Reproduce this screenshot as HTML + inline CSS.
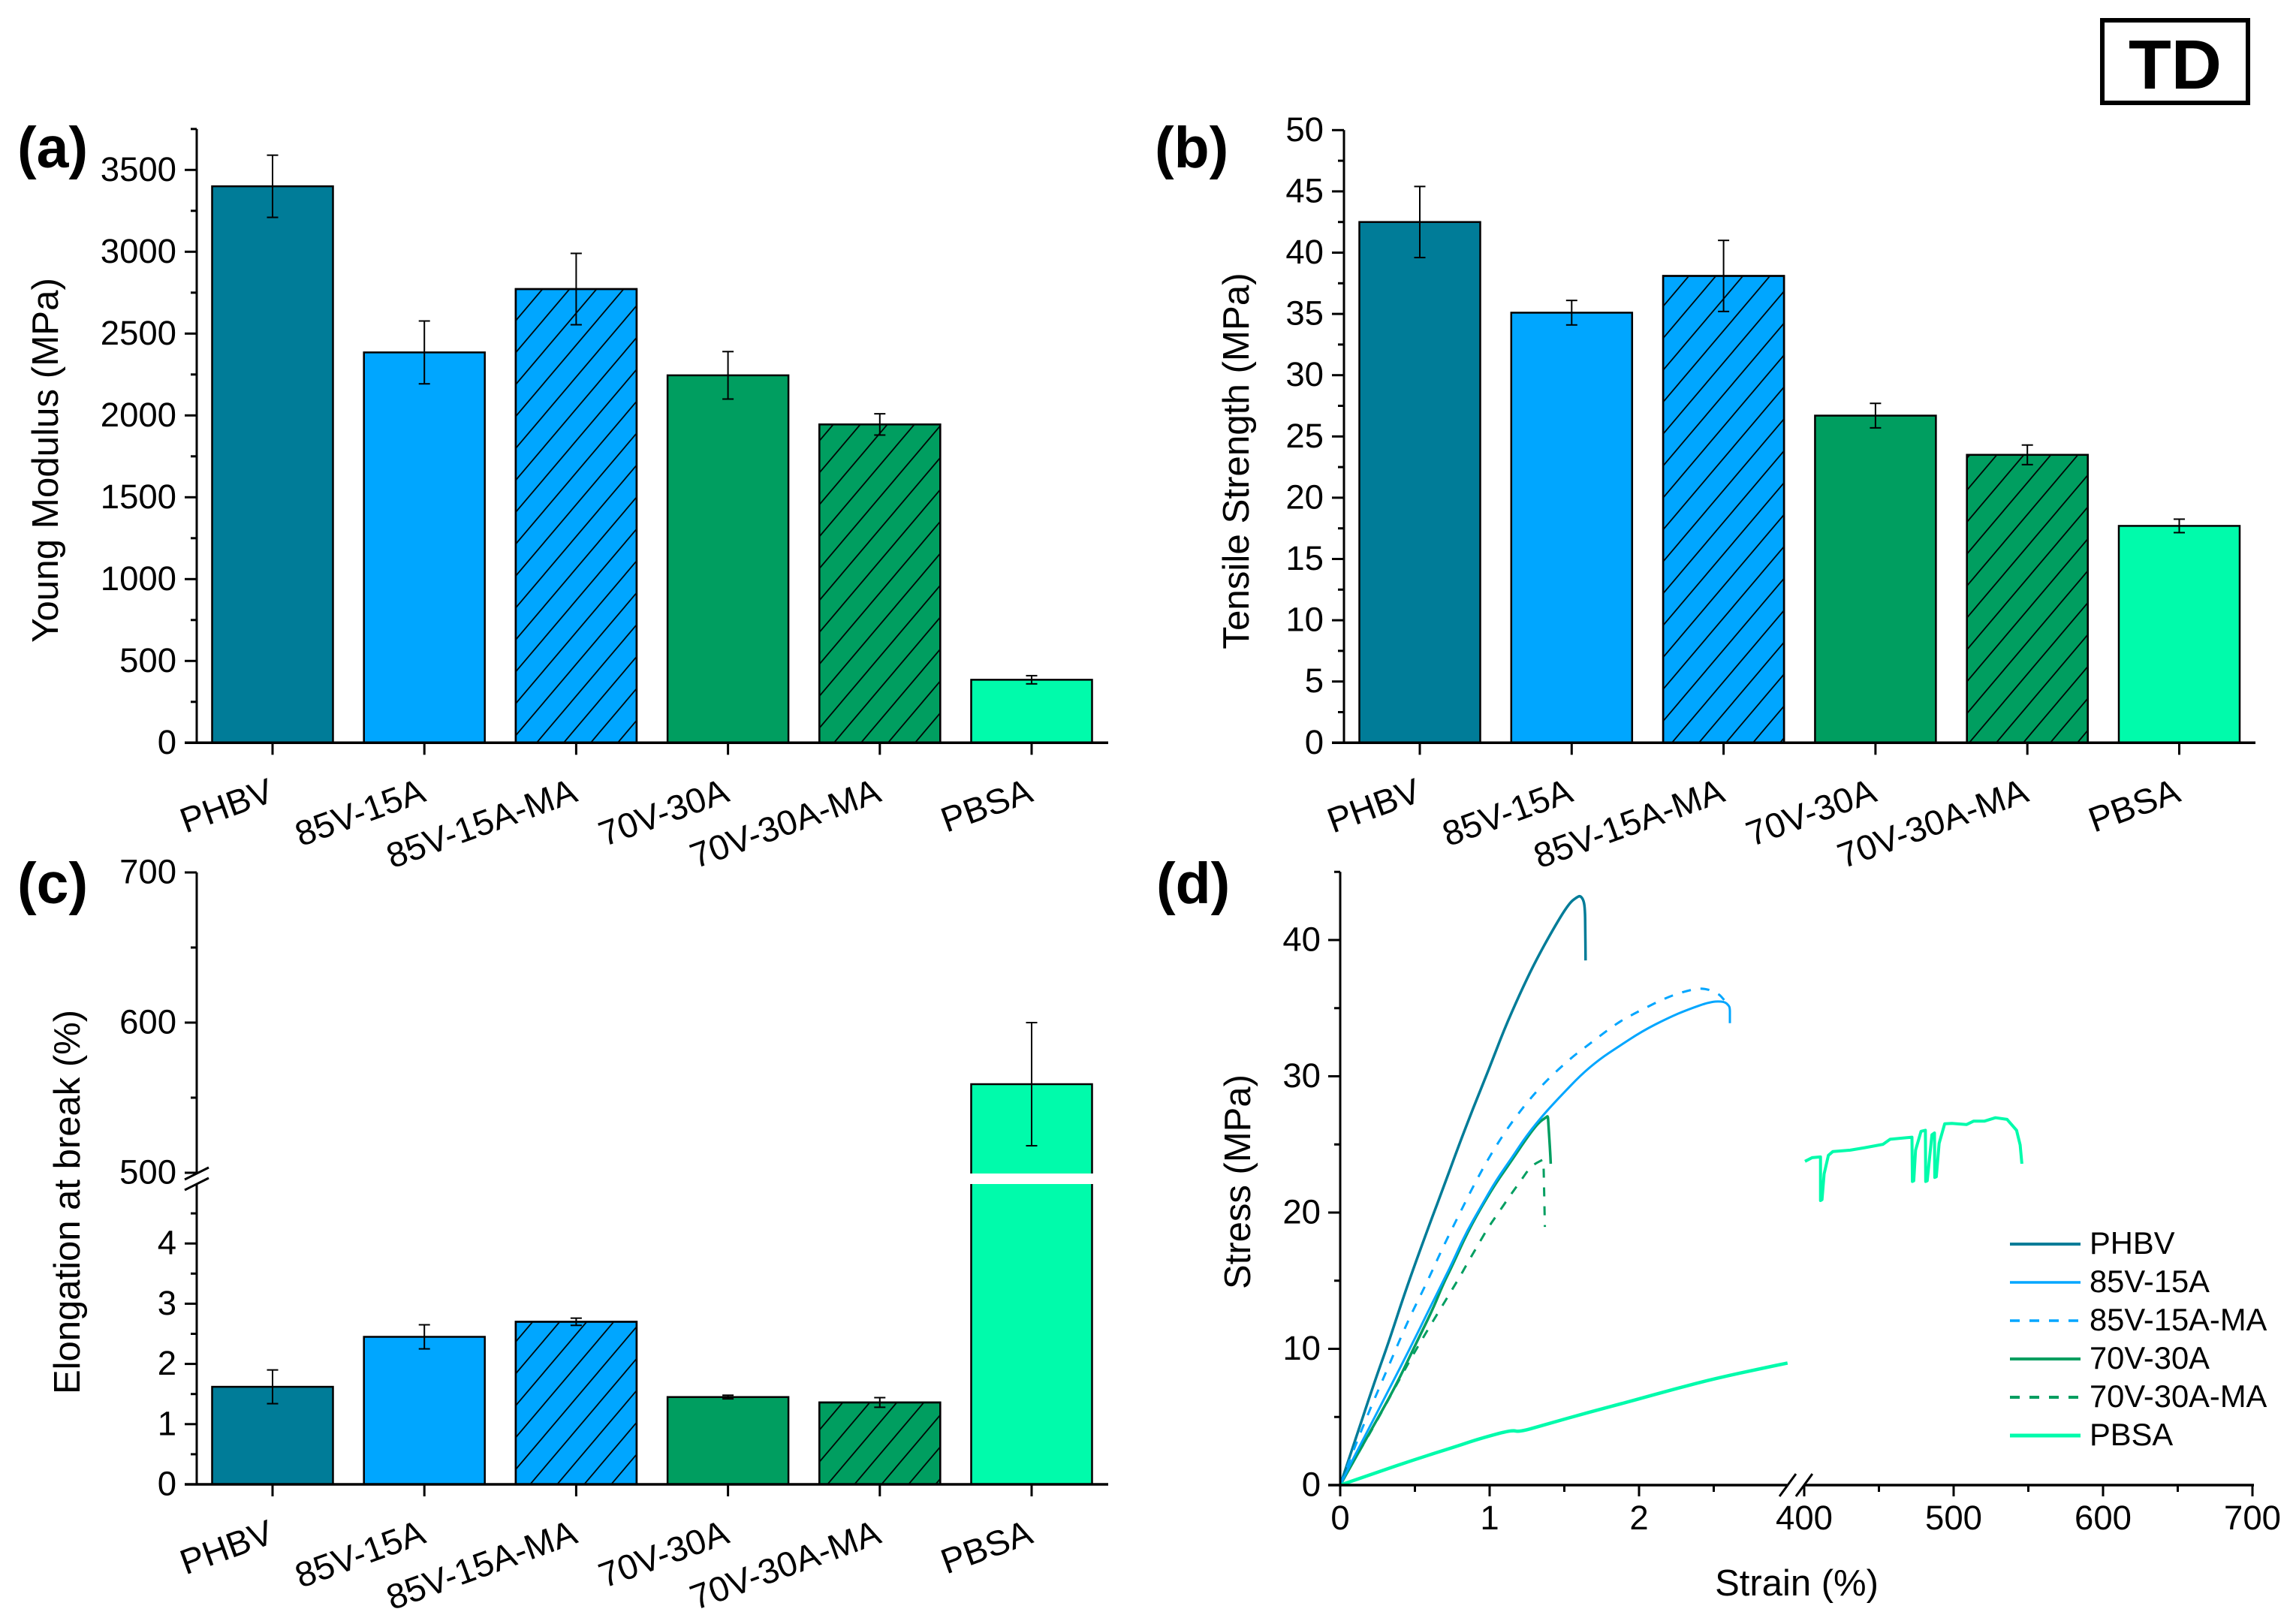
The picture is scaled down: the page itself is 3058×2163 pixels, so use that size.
<!DOCTYPE html>
<html lang="en">
<head>
<meta charset="utf-8">
<title>TD mechanical properties</title>
<style>
html,body{margin:0;padding:0;background:#fff;}
svg{display:block;}
text{font-family:"Liberation Sans",Arial,sans-serif;fill:#000;}
</style>
</head>
<body>
<svg id="chart" xmlns="http://www.w3.org/2000/svg" width="3058" height="2163" viewBox="0 0 3058 2163">
<defs>
<pattern id="hatch" patternUnits="userSpaceOnUse" width="36" height="42.5" patternTransform="translate(4.7,0)">
<path d="M-4,4.72 L4,-4.72 M0,42.5 L36,0 M32,47.22 L40,37.78" stroke="#000" stroke-width="1.7" fill="none"/>
</pattern>
</defs>
<rect x="0" y="0" width="3058" height="2163" fill="#fff"/>
<g>
<rect x="2800" y="27" width="194" height="110" fill="none" stroke="#000" stroke-width="6"/>
<text x="2897" y="118" font-size="93" font-weight="bold" text-anchor="middle">TD</text>
</g>
<text x="23" y="223" font-size="77" font-weight="bold">(a)</text>
<text x="1538" y="223" font-size="77" font-weight="bold">(b)</text>
<text x="23" y="1203" font-size="77" font-weight="bold">(c)</text>
<text x="1540" y="1203" font-size="77" font-weight="bold">(d)</text>
<text transform="translate(77,613) rotate(-90)" font-size="49.3" text-anchor="middle">Young Modulus (MPa)</text>
<text transform="translate(1663,614) rotate(-90)" font-size="49.3" text-anchor="middle">Tensile Strength (MPa)</text>
<text transform="translate(106,1601) rotate(-90)" font-size="49" text-anchor="middle">Elongation at break (%)</text>
<text transform="translate(1665,1574) rotate(-90)" font-size="49" text-anchor="middle">Stress (MPa)</text>
<text x="2393" y="2125" font-size="49" text-anchor="middle">Strain (%)</text>
<g id="plots"></g>
</svg>
<script>
const categories = ['PHBV', '85V-15A', '85V-15A-MA', '70V-30A', '70V-30A-MA', 'PBSA'];
const barColors = ['#007C98', '#00A6FF', '#00A6FF', '#009E60', '#009E60', '#00FBAB'];
const barHatched = [false, false, true, false, true, false];

const modulusValues = [3400, 2385, 2772, 2245, 1945, 385];
const modulusErrors = [190, 192, 218, 145, 65, 25];
const modulusMajorTicks = [0, 500, 1000, 1500, 2000, 2500, 3000, 3500];
const modulusMinorTicks = [250, 750, 1250, 1750, 2250, 2750, 3250, 3750];

const strengthValues = [42.5, 35.1, 38.1, 26.7, 23.5, 17.7];
const strengthErrors = [2.9, 1.0, 2.9, 1.0, 0.8, 0.55];
const strengthMajorTicks = [0, 5, 10, 15, 20, 25, 30, 35, 40, 45, 50];
const strengthMinorTicks = [2.5, 7.5, 12.5, 17.5, 22.5, 27.5, 32.5, 37.5, 42.5, 47.5];

const elongationValues = [1.62, 2.45, 2.7, 1.45, 1.36, 559];
const elongationErrors = [0.28, 0.2, 0.06, 0.03, 0.08, 41];
const elongationMajorTicks = [0, 1, 2, 3, 4, 500, 600, 700];
const elongationMinorTicks = [0.5, 1.5, 2.5, 3.5, 4.5, 550, 650];

const strainMajorTicks = [0, 1, 2, 400, 500, 600, 700];
const strainMinorTicks = [0.5, 1.5, 2.5, 450, 550, 650];
const stressMajorTicks = [0, 10, 20, 30, 40];
const stressMinorTicks = [5, 15, 25, 35, 45];

const phbvStrain = [0, 0.08, 0.224, 0.325, 0.447, 0.608, 0.686, 0.788, 0.891, 0.993, 1.096, 1.2, 1.3, 1.43, 1.532, 1.585, 1.608, 1.63, 1.638, 1.64, 1.642];
const phbvStress = [0, 2.6, 7.4, 10.5, 14.6, 19.45, 21.7, 24.76, 27.7, 30.46, 33.4, 36, 38.3, 40.9, 42.7, 43.15, 43.25, 42.9, 42.2, 41, 38.5];

const v85Strain = [0, 0.066, 0.166, 0.34, 0.47, 0.6, 0.68, 0.745, 0.839, 0.942, 1.045, 1.146, 1.25, 1.377, 1.48, 1.608, 1.737, 1.852, 2.019, 2.198, 2.327, 2.48, 2.57, 2.6, 2.608, 2.608, 2.608];
const v85Stress = [0, 1.5, 3.6, 7.3, 10.1, 13.0, 14.77, 16.2, 18.46, 20.44, 22.4, 23.97, 25.7, 27.4, 28.6, 30.07, 31.26, 32.1, 33.3, 34.3, 34.9, 35.48, 35.5, 35.2, 35.0, 34.5, 33.9];

const v85MaStrain = [0, 0.138, 0.31, 0.455, 0.583, 0.685, 0.8, 0.917, 1.045, 1.185, 1.352, 1.544, 1.66, 1.852, 1.967, 2.186, 2.327, 2.428, 2.53, 2.57];
const v85MaStress = [0, 4.0, 8.37, 12.1, 14.93, 17.4, 19.95, 22.5, 24.96, 27.2, 29.4, 31.35, 32.3, 33.9, 34.6, 35.8, 36.3, 36.5, 36.1, 35.6];

const v70Strain = [0, 0.196, 0.367, 0.49, 0.62, 0.69, 0.75, 0.865, 1.019, 1.146, 1.25, 1.327, 1.38, 1.39, 1.393, 1.405, 1.409];
const v70Stress = [0, 3.8, 7.17, 10, 12.9, 14.77, 16.1, 18.86, 21.8, 23.8, 25.5, 26.6, 27.0, 27.1, 26.6, 24.5, 23.58];

const v70MaStrain = [0, 0.136, 0.21, 0.397, 0.528, 0.788, 0.852, 0.916, 0.993, 1.057, 1.134, 1.2, 1.275, 1.35, 1.36, 1.362, 1.37];
const v70MaStress = [0, 2.64, 4, 7.77, 10.36, 15.04, 16.3, 17.5, 18.95, 19.95, 21.2, 22.2, 23.4, 23.85, 23.9, 23.2, 18.95];

const pbsaLowStrain = [0, 0.224, 0.513, 0.8, 0.93, 1.147, 1.2, 1.377, 1.666, 1.955, 2.243, 2.532, 2.82, 2.994];
const pbsaLowStress = [0, 0.85, 1.93, 2.92, 3.4, 4.05, 3.89, 4.46, 5.35, 6.19, 7.07, 7.88, 8.56, 8.96];
const pbsaHighStrain = [400.5, 405.3, 410.9, 410.9, 411.9, 413.3, 416.2, 419.2, 430.8, 440.5, 452.7, 457.5, 472.1, 472.4, 473.3, 474.5, 478.2, 481.1, 481.3, 482.3, 485.5, 487.2, 487.4, 488.4, 490.3, 494, 498.8, 508.6, 513.4, 520.7, 528, 535.8, 542.1, 544.5, 545.7];
const pbsaHighStress = [23.76, 24.03, 24.08, 20.88, 20.95, 22.83, 24.2, 24.48, 24.58, 24.76, 25.01, 25.38, 25.53, 22.28, 22.33, 24.58, 25.96, 26.04, 22.28, 22.33, 25.71, 25.84, 22.58, 22.63, 25.08, 26.51, 26.54, 26.46, 26.71, 26.71, 26.96, 26.84, 26.04, 24.96, 23.58];

const legendLabels = ['PHBV', '85V-15A', '85V-15A-MA', '70V-30A', '70V-30A-MA', 'PBSA'];
const legendColors = ['#007C98', '#00A6FF', '#00A6FF', '#009E60', '#009E60', '#00FBAB'];
const legendDashed = [false, false, true, false, true, false];
const legendWidths = [4, 3.5, 3.5, 4, 4, 5];

const NS = 'http://www.w3.org/2000/svg';
const root = document.getElementById('plots');

function mk(tag, attrs, parent) {
  const node = document.createElementNS(NS, tag);
  for (const k in attrs) node.setAttribute(k, attrs[k]);
  (parent || root).appendChild(node);
  return node;
}

function drawLine(parent, x1, y1, x2, y2, width, name) {
  const l = mk('line', {x1: x1, y1: y1, x2: x2, y2: y2, stroke: '#000', 'stroke-width': width}, parent);
  
  
  return l;
}

function drawTickLabel(parent, x, y, str, anchor, name) {
  const t = mk('text', {x: x, y: y, 'font-size': 45.5, 'text-anchor': anchor}, parent);
  t.textContent = str;
  
  
  return t;
}

function yAxisTicks(parent, panel, axisX, scale, majors, minors, labelX) {
  majors.forEach(function (v) {
    drawLine(parent, axisX - 16, scale(v), axisX, scale(v), 3, panel + '-y-major-tick-' + v);
    drawTickLabel(parent, labelX, scale(v) + 14.5, String(v), 'end', panel + '-y-tick-label-' + v);
  });
  minors.forEach(function (v) {
    drawLine(parent, axisX - 8, scale(v), axisX, scale(v), 3, panel + '-y-minor-tick-' + v);
  });
}

function barPanel(panel, opts) {
  const g = mk('g', {});
  
  
  const bx = function (i) { return opts.firstX + i * opts.step; };
  const halfBar = 80.5;

  opts.values.forEach(function (v, i) {
    const top = opts.y(v);
    const bar = mk('rect', {x: bx(i) - halfBar, y: top, width: halfBar * 2, height: opts.baseY - top, fill: barColors[i], stroke: '#000', 'stroke-width': 2.5}, g);
    
    
    if (barHatched[i]) {
      const hatch = mk('rect', {x: bx(i) - halfBar, y: top, width: halfBar * 2, height: opts.baseY - top, fill: 'url(#hatch)', stroke: '#000', 'stroke-width': 2.5}, g);
      
      
    }
  });

  if (opts.gap) {
    const gap = mk('rect', {x: bx(0) - 100, y: opts.gap[0], width: opts.step * 5 + 200, height: opts.gap[1] - opts.gap[0], fill: '#fff'}, g);
    
    
  }

  opts.values.forEach(function (v, i) {
    const hi = opts.y(v + opts.errors[i]);
    const lo = opts.y(v - opts.errors[i]);
    drawLine(g, bx(i), hi, bx(i), lo, 2, 'error-bar-' + panel + '-' + categories[i]);
    drawLine(g, bx(i) - 7.5, hi, bx(i) + 7.5, hi, 2, 'error-cap-upper-' + panel + '-' + categories[i]);
    drawLine(g, bx(i) - 7.5, lo, bx(i) + 7.5, lo, 2, 'error-cap-lower-' + panel + '-' + categories[i]);
  });

  yAxisTicks(g, panel, opts.axisX, opts.y, opts.majors, opts.minors, opts.labelX);

  if (opts.gap) {
    drawLine(g, opts.axisX, opts.y(700), opts.axisX, opts.gap[0], 3, 'y-axis-upper-' + panel);
    drawLine(g, opts.axisX, opts.gap[1], opts.axisX, opts.baseY, 3, 'y-axis-lower-' + panel);
    drawLine(g, opts.axisX - 16, opts.gap[0] + 8, opts.axisX + 16, opts.gap[0] - 8, 3, 'y-axis-break-mark-upper');
    drawLine(g, opts.axisX - 16, opts.gap[1] + 8, opts.axisX + 16, opts.gap[1] - 8, 3, 'y-axis-break-mark-lower');
  } else {
    drawLine(g, opts.axisX, opts.y(opts.maxV), opts.axisX, opts.baseY, 3, 'y-axis-' + panel);
  }
  drawLine(g, opts.axisX - 16, opts.baseY, opts.axisX + 1214, opts.baseY, 3.5, 'x-axis-' + panel);

  categories.forEach(function (c, i) {
    drawLine(g, bx(i), opts.baseY, bx(i), opts.baseY + 16, 3, 'x-tick-' + panel + '-' + c);
    const lx = bx(i) + 4;
    const ly = opts.baseY + 77;
    const t = mk('text', {x: lx, y: ly, 'font-size': 46.8, 'text-anchor': 'end', transform: 'rotate(-20 ' + lx + ' ' + ly + ')'}, g);
    t.textContent = c;
    
    
  });
}

barPanel('a', {
  values: modulusValues, errors: modulusErrors, majors: modulusMajorTicks, minors: modulusMinorTicks,
  y: function (v) { return 989.3 - v * 0.218; },
  baseY: 989.3, axisX: 262, labelX: 235, firstX: 363, step: 202.2, maxV: 3750
});

barPanel('b', {
  values: strengthValues, errors: strengthErrors, majors: strengthMajorTicks, minors: strengthMinorTicks,
  y: function (v) { return 989.3 - v * 16.32; },
  baseY: 989.3, axisX: 1790, labelX: 1763, firstX: 1891, step: 202.3, maxV: 50
});

barPanel('c', {
  values: elongationValues, errors: elongationErrors, majors: elongationMajorTicks, minors: elongationMinorTicks,
  y: function (v) { return v >= 100 ? 1562 - (v - 500) * 2 : 1977 - v * 80.2; },
  baseY: 1977, axisX: 262, labelX: 235, firstX: 363, step: 202.2, gap: [1563, 1577]
});

/* panel d */
const xD = function (v) { return v < 100 ? 1785 + v * 199 : 2403 + (v - 400) * 1.99; };
const yD = function (v) { return 1978 - v * 18.15; };
const gD = mk('g', {});



function smoothPath(strain, stress) {
  const px = strain.map(xD);
  const py = stress.map(yD);
  let d = 'M' + px[0].toFixed(1) + ',' + py[0].toFixed(1);
  for (let i = 1; i < px.length - 1; i++) {
    const mx = (px[i] + px[i + 1]) / 2;
    const my = (py[i] + py[i + 1]) / 2;
    d += ' Q' + px[i].toFixed(1) + ',' + py[i].toFixed(1) + ' ' + mx.toFixed(1) + ',' + my.toFixed(1);
  }
  d += ' L' + px[px.length - 1].toFixed(1) + ',' + py[py.length - 1].toFixed(1);
  return d;
}

function drawSmoothSeries(name, strain, stress, color, width, dashed) {
  const attrs = {d: smoothPath(strain, stress), fill: 'none', stroke: color, 'stroke-width': width, 'stroke-linejoin': 'round'};
  if (dashed) attrs['stroke-dasharray'] = '12 13';
  const p = mk('path', attrs, gD);
  
  
}

function drawSeries(name, strain, stress, color, width) {
  const pts = strain.map(function (s, i) { return xD(s).toFixed(1) + ',' + yD(stress[i]).toFixed(1); }).join(' ');
  const p = mk('polyline', {points: pts, fill: 'none', stroke: color, 'stroke-width': width, 'stroke-linejoin': 'round'}, gD);
  
  
}

drawSmoothSeries('series-phbv', phbvStrain, phbvStress, '#007C98', 3.5, false);
drawSmoothSeries('series-70v-30a', v70Strain, v70Stress, '#009E60', 3.5, false);
drawSmoothSeries('series-70v-30a-ma', v70MaStrain, v70MaStress, '#009E60', 3, true);
drawSmoothSeries('series-85v-15a', v85Strain, v85Stress, '#00A6FF', 3, false);
drawSmoothSeries('series-85v-15a-ma', v85MaStrain, v85MaStress, '#00A6FF', 3, true);
drawSmoothSeries('series-pbsa-low-strain', pbsaLowStrain, pbsaLowStress, '#00FBAB', 4.5, false);
drawSeries('series-pbsa-high-strain', pbsaHighStrain, pbsaHighStress, '#00FBAB', 4);

yAxisTicks(gD, 'd', 1785, yD, stressMajorTicks, stressMinorTicks, 1759);
drawLine(gD, 1785, yD(45), 1785, 1979, 3, 'y-axis-d');
drawLine(gD, 1769, 1978, xD(2.99), 1978, 3.5, 'x-axis-d-lower');
drawLine(gD, xD(400), 1978, xD(700) + 2, 1978, 3.5, 'x-axis-d-upper');
drawLine(gD, xD(2.94), 1993, xD(3.05), 1963, 3, 'x-axis-break-mark-left');
drawLine(gD, xD(3.05), 1993, xD(3.16), 1963, 3, 'x-axis-break-mark-right');

strainMajorTicks.forEach(function (v) {
  drawLine(gD, xD(v), 1978, xD(v), 1993, 3, 'x-major-tick-d-' + v);
  drawTickLabel(gD, xD(v), 2037, String(v), 'middle', 'x-tick-label-d-' + v);
});
strainMinorTicks.forEach(function (v) {
  drawLine(gD, xD(v), 1978, xD(v), 1987, 3, 'x-minor-tick-d-' + v);
});

const legend = mk('g', {}, gD);


legendLabels.forEach(function (label, i) {
  const rowY = 1657 + i * 51;
  const attrs = {x1: 2677, y1: rowY, x2: 2771, y2: rowY, stroke: legendColors[i], 'stroke-width': legendWidths[i]};
  if (legendDashed[i]) attrs['stroke-dasharray'] = '13 13';
  const sw = mk('line', attrs, legend);
  
  
  const t = mk('text', {x: 2783, y: rowY + 13, 'font-size': 41.7}, legend);
  t.textContent = label;
  
  
});
</script>
</body>
</html>
